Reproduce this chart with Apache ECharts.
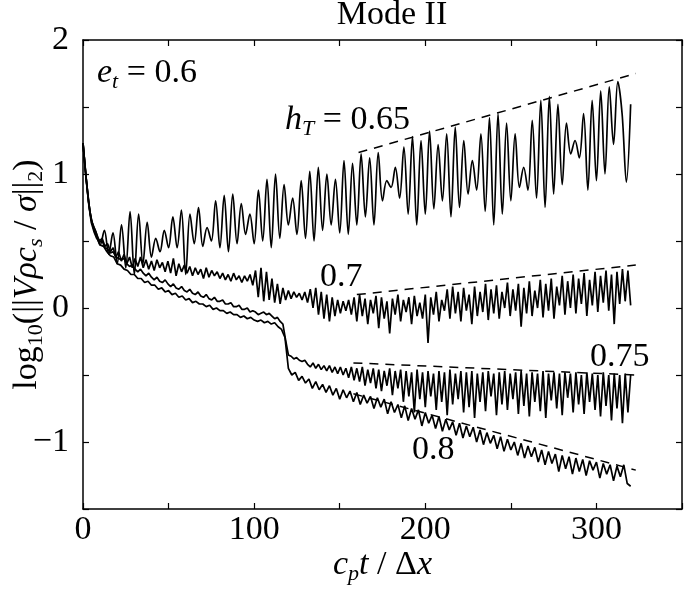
<!DOCTYPE html>
<html>
<head>
<meta charset="utf-8">
<script src="https://cdn.jsdelivr.net/npm/echarts@6/dist/echarts.min.js"></script>
<style>html,body{margin:0;padding:0;background:#fff}#c{width:685px;height:593px}</style>
</head>
<body>
<div id="c"></div>
<script>
// sample spacing (x units) of each recorded series
const step065 = 2.5, step07 = 1.6, step075 = 1.6, step08 = 2;
const hT065 = [1.23,0.88,0.65,0.57,0.47,0.58,0.40,0.56,0.33,0.62,0.30,0.72,0.25,0.70,0.33,0.64,0.38,0.52,0.42,0.58,
0.45,0.68,0.45,0.73,0.25,0.70,0.48,0.75,0.46,0.60,0.50,0.80,0.45,0.84,0.42,0.85,0.48,0.78,0.55,0.70,
0.48,0.88,0.50,0.96,0.45,1.00,0.52,0.92,0.62,0.82,0.55,0.95,0.52,1.02,0.50,1.05,0.58,1.00,0.62,0.96,
0.56,1.10,0.55,1.08,0.62,1.15,0.68,1.12,0.62,1.16,0.80,0.95,0.90,1.05,0.82,1.20,0.70,1.28,0.62,1.25,
0.70,1.32,0.74,1.22,0.80,1.30,0.68,1.35,0.75,1.25,0.85,1.10,0.88,1.30,0.72,1.42,0.62,1.45,0.70,1.38,
0.80,1.30,0.90,1.05,0.88,1.40,0.82,1.55,0.75,1.58,0.85,1.52,0.92,1.38,1.15,1.25,1.12,1.45,0.88,1.55,
0.95,1.62,1.00,1.65,1.22,1.69,1.45,0.94,1.52];
const hT07 = [1.23,1.00,0.80,0.66,0.60,0.55,0.50,0.52,0.46,0.48,0.42,0.45,0.38,0.42,0.35,0.40,0.33,0.38,0.30,0.37,
0.31,0.38,0.30,0.36,0.29,0.35,0.28,0.36,0.30,0.34,0.27,0.35,0.26,0.37,0.24,0.33,0.27,0.32,0.26,0.31,
0.24,0.30,0.25,0.29,0.22,0.30,0.23,0.28,0.24,0.27,0.22,0.26,0.21,0.25,0.20,0.26,0.21,0.24,0.19,0.24,
0.20,0.25,0.17,0.28,0.08,0.30,0.05,0.27,0.06,0.22,0.04,0.18,0.03,0.15,0.06,0.13,0.07,0.12,0.08,0.11,
0.06,0.12,0.04,0.14,0.00,0.15,-0.05,0.12,-0.08,0.10,-0.10,0.08,-0.06,0.06,-0.04,0.05,-0.02,0.06,-0.05,0.08,
-0.10,0.10,-0.06,0.07,-0.12,0.06,-0.04,0.09,-0.15,0.08,-0.08,0.05,-0.19,0.07,-0.05,0.10,-0.10,0.06,-0.03,0.08,
-0.12,0.09,-0.06,0.04,-0.08,0.10,-0.26,0.08,-0.05,0.12,-0.10,0.06,-0.02,0.14,-0.08,0.16,-0.04,0.12,-0.10,0.15,
-0.02,0.10,-0.12,0.16,-0.06,0.12,-0.03,0.18,-0.09,0.14,-0.04,0.17,-0.08,0.12,0.00,0.19,-0.06,0.14,-0.02,0.18,
-0.14,0.15,-0.04,0.20,-0.06,0.13,0.00,0.21,-0.07,0.18,-0.02,0.22,-0.08,0.16,0.02,0.24,-0.05,0.20,0.00,0.25,
-0.04,0.22,0.03,0.26,-0.06,0.21,0.02,0.27,-0.03,0.24,0.04,0.28,-0.02,0.25,-0.12,0.27,0.03,0.29,0.05,0.28,0.02];
const hT075 = [1.23,1.00,0.79,0.64,0.57,0.52,0.49,0.50,0.45,0.44,0.41,0.42,0.38,0.37,0.36,0.37,0.33,0.31,0.32,0.29,
0.27,0.29,0.26,0.24,0.26,0.23,0.21,0.23,0.20,0.19,0.21,0.18,0.16,0.18,0.15,0.14,0.16,0.13,0.12,0.14,
0.11,0.10,0.12,0.09,0.08,0.10,0.07,0.06,0.08,0.05,0.05,0.06,0.03,0.03,0.04,0.01,0.01,0.02,-0.01,-0.01,
0.00,-0.03,-0.02,-0.03,-0.05,-0.04,-0.03,-0.05,-0.04,-0.06,-0.08,-0.07,-0.10,-0.12,-0.24,-0.35,-0.36,-0.38,-0.37,-0.39,
-0.40,-0.39,-0.42,-0.44,-0.41,-0.45,-0.42,-0.46,-0.43,-0.47,-0.43,-0.48,-0.44,-0.49,-0.44,-0.50,-0.45,-0.52,-0.44,-0.54,
-0.45,-0.55,-0.44,-0.58,-0.46,-0.56,-0.45,-0.60,-0.46,-0.62,-0.47,-0.58,-0.45,-0.65,-0.47,-0.60,-0.46,-0.70,-0.47,-0.66,
-0.48,-0.78,-0.46,-0.68,-0.48,-0.74,-0.47,-0.66,-0.49,-0.76,-0.47,-0.70,-0.48,-0.80,-0.46,-0.72,-0.49,-0.68,-0.47,-0.78,
-0.48,-0.74,-0.47,-0.82,-0.49,-0.70,-0.48,-0.77,-0.47,-0.66,-0.49,-0.80,-0.48,-0.72,-0.47,-0.76,-0.49,-0.68,-0.48,-0.79,
-0.47,-0.73,-0.49,-0.81,-0.48,-0.70,-0.49,-0.77,-0.47,-0.82,-0.49,-0.69,-0.48,-0.75,-0.49,-0.80,-0.48,-0.67,-0.49,-0.78,
-0.48,-0.72,-0.50,-0.79,-0.48,-0.70,-0.49,-0.76,-0.50,-0.81,-0.48,-0.73,-0.50,-0.84,-0.49,-0.75,-0.50,-0.86,-0.49,-0.78,-0.50];
const hT08 = [1.23,0.95,0.72,0.60,0.53,0.47,0.46,0.42,0.39,0.38,0.33,0.32,0.29,0.28,0.25,0.25,0.22,0.22,0.19,0.20,
0.17,0.17,0.14,0.15,0.12,0.13,0.10,0.11,0.08,0.09,0.06,0.07,0.04,0.05,0.03,0.03,0.01,0.02,-0.01,0.00,
-0.02,-0.02,-0.04,-0.03,-0.05,-0.05,-0.07,-0.06,-0.08,-0.07,-0.09,-0.10,-0.09,-0.11,-0.10,-0.12,-0.11,-0.14,-0.16,-0.22,
-0.45,-0.50,-0.48,-0.54,-0.51,-0.56,-0.53,-0.60,-0.55,-0.61,-0.57,-0.63,-0.58,-0.65,-0.60,-0.68,-0.61,-0.67,-0.62,-0.70,
-0.63,-0.72,-0.65,-0.71,-0.66,-0.75,-0.67,-0.74,-0.68,-0.79,-0.70,-0.78,-0.72,-0.82,-0.73,-0.84,-0.75,-0.83,-0.76,-0.88,
-0.78,-0.86,-0.80,-0.90,-0.81,-0.92,-0.83,-0.91,-0.85,-0.95,-0.86,-0.97,-0.88,-0.96,-0.89,-1.00,-0.91,-1.02,-0.93,-1.01,
-0.95,-1.05,-0.96,-1.07,-0.98,-1.06,-1.00,-1.10,-1.01,-1.12,-1.03,-1.11,-1.04,-1.15,-1.06,-1.17,-1.07,-1.16,-1.09,-1.22,
-1.10,-1.20,-1.11,-1.24,-1.12,-1.22,-1.13,-1.25,-1.14,-1.21,-1.15,-1.27,-1.16,-1.24,-1.17,-1.29,-1.18,-1.26,-1.17,-1.31,-1.33];
// dashed growth/decay guide lines [x, y] endpoints
const guide065 = [[161,1.16],[323,1.75]];
const guide07  = [[160,0.10],[323,0.32]];
const guide075 = [[158,-0.41],[323,-0.50]];
const guide08  = [[158,-0.64],[323,-1.21]];
const xTicks = [0,100,200,300];
const yTicks = [-1,0,1,2];

const toPairs = (arr, dt) => arr.map((v, i) => [i * dt, v]);
const SERIF = '"Liberation Serif","DejaVu Serif",serif';
const FS = 34;
const rich = {
  n: {fontFamily: SERIF, fontSize: FS, color: '#000'},
  i: {fontFamily: SERIF, fontSize: FS, fontStyle: 'italic', color: '#000'},
  sub: {fontFamily: SERIF, fontSize: 22, color: '#000', padding: [18,0,0,0]},
  isub: {fontFamily: SERIF, fontSize: 22, fontStyle: 'italic', color: '#000', padding: [18,0,0,0]}
};
const lineS = (data, smooth) => ({type:'line', data, showSymbol:false, symbol:'none', smooth: smooth || false,
  lineStyle:{color:'#000', width:1.7}, silent:true});
const dashS = (data) => ({type:'line', data, showSymbol:false, symbol:'none', lineStyle:{color:'#000', width:1.5, type:[9,7]}, silent:true});

const axisCommon = {
  axisLine: {show:true, onZero:false, lineStyle:{color:'#000', width:1.5}},
  axisTick: {show:true, inside:true, length:6, lineStyle:{color:'#000', width:1.2}},
  splitLine: {show:false}
};
const chart = echarts.init(document.getElementById('c'));
chart.setOption({
  animation: false,
  backgroundColor: '#fff',
  title: {text: 'Mode II', left: 387, textAlign: 'center', top: -7,
    textStyle: {fontFamily: SERIF, fontSize: FS, fontWeight: 'normal', color: '#000'}},
  grid: {left: 83, right: 3, top: 40, bottom: 84, containLabel: false, outerBoundsMode: 'none'},
  xAxis: [
    Object.assign({type:'value', min:0, max:350, interval:50, position:'bottom',
      axisLabel: {color:'#000', fontFamily:SERIF, fontSize:FS, margin:4,
        formatter: v => xTicks.includes(v) ? String(v) : ''},
      name: '{i|c}{isub|p}{i|t}{n| / Δ}{i|x}', nameLocation:'middle', nameGap: 36, nameMoveOverlap: false,
      nameTextStyle: {rich}}, axisCommon),
    Object.assign({type:'value', min:0, max:350, interval:50, position:'top', axisLabel:{show:false}}, axisCommon)
  ],
  yAxis: [
    Object.assign({type:'value', min:-1.5, max:2, interval:0.5, position:'left',
      axisLabel: {color:'#000', fontFamily:SERIF, fontSize:FS, margin:14,
        formatter: v => yTicks.includes(v) ? (v < 0 ? '\u2212' + Math.abs(v) : String(v)) : ''},
      name: '{n|log}{sub|10}{n|(||}{i|Vρc}{isub|s}{n| / }{i|σ}{n|||}{sub|2}{n|)}',
      nameLocation:'middle', nameRotate: 90, nameGap: 36, nameMoveOverlap: false, nameTextStyle: {rich}}, axisCommon),
    Object.assign({type:'value', min:-1.5, max:2, interval:0.5, position:'right', axisLabel:{show:false}}, axisCommon)
  ],
  series: [
    lineS(toPairs(hT065, step065), 0.35),
    lineS(toPairs(hT07, step07)),
    lineS(toPairs(hT075, step075)),
    lineS(toPairs(hT08, step08)),
    dashS(guide065), dashS(guide07), dashS(guide075), dashS(guide08)
  ],
  graphic: [
    {type:'text', x:97, y:73, style:{text:'{i|e}{isub|t}{n| = 0.6}', rich, verticalAlign:'middle', align:'left'}},
    {type:'text', x:410, y:120, style:{text:'{i|h}{isub|T}{n| = 0.65}', rich, verticalAlign:'middle', align:'right'}},
    {type:'text', x:320, y:277, style:{text:'{n|0.7}', rich, verticalAlign:'middle', align:'left'}},
    {type:'text', x:590, y:357, style:{text:'{n|0.75}', rich, verticalAlign:'middle', align:'left'}},
    {type:'text', x:412, y:450, style:{text:'{n|0.8}', rich, verticalAlign:'middle', align:'left'}}
  ]
});
</script>
</body>
</html>
